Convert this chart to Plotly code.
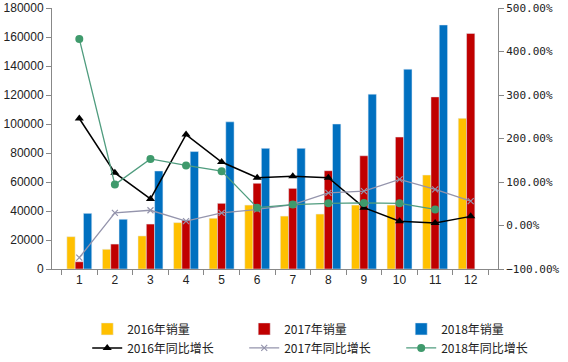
import plotly.graph_objects as go

months = ["1", "2", "3", "4", "5", "6", "7", "8", "9", "10", "11", "12"]
sales_2016 = [22300, 13600, 22800, 32000, 35000, 44100, 36500, 37900, 44100, 44100, 64800, 103900]
sales_2017 = [5000, 17200, 31000, 33800, 45300, 59100, 55600, 67800, 78100, 91000, 118700, 162500]
sales_2018 = [38400, 34300, 67600, 81000, 101500, 83200, 83200, 100000, 120600, 137800, 168300]
growth_2016 = [246, 121, 61, 209, 146, 110, 113, 110, 41, 10, 6, 21]
growth_2017 = [-74, 29, 35, 10, 29, 37, 48, 75, 79, 106, 83, 56]
growth_2018 = [429, 94, 153, 138, 125, 41, 48, 51, 52, 51, 37]

names = ["2016年销量", "2017年销量", "2018年销量", "2016年同比增长", "2017年同比增长", "2018年同比增长"]

font_cjk = "Noto Sans CJK SC, Noto Sans, sans-serif"

fig = go.Figure()
fig.add_trace(go.Bar(x=months, y=sales_2016, name=names[0], marker_color="#FFC000"))
fig.add_trace(go.Bar(x=months, y=sales_2017, name=names[1], marker_color="#C00000"))
fig.add_trace(go.Bar(x=months[:len(sales_2018)], y=sales_2018, name=names[2], marker_color="#0070C0"))
fig.add_trace(go.Scatter(x=months, y=growth_2016, name=names[3], yaxis="y2", mode="lines+markers",
                         line=dict(color="#000000", width=1.5),
                         marker=dict(symbol="triangle-up", size=8, color="#000000")))
fig.add_trace(go.Scatter(x=months, y=growth_2017, name=names[4], yaxis="y2", mode="lines+markers",
                         line=dict(color="#9494AC", width=1.3),
                         marker=dict(symbol="x-thin", size=6, color="#9494AC",
                                     line=dict(color="#9494AC", width=1.2))))
fig.add_trace(go.Scatter(x=months[:len(growth_2018)], y=growth_2018, name=names[5], yaxis="y2",
                         mode="lines+markers",
                         line=dict(color="#4F9C7E", width=1.3),
                         marker=dict(symbol="circle", size=8, color="#3F9A6C")))

fig.update_layout(
    width=568, height=362,
    margin=dict(l=52, r=70, t=8, b=93, autoexpand=False),
    paper_bgcolor="white", plot_bgcolor="white",
    barmode="group", bargap=0.3, bargroupgap=0,
    font=dict(family=font_cjk, size=12, color="#222222"),
    showlegend=True,
    legend=dict(orientation="h", x=1.135, xanchor="right", y=-0.174, yanchor="top",
                entrywidth=112, entrywidthmode="pixels",
                font=dict(size=12, family=font_cjk, color="#222222"),
                bgcolor="rgba(0,0,0,0)", tracegroupgap=0, itemwidth=30),
    xaxis=dict(type="category", showline=True, linecolor="#888888", linewidth=1,
               ticks="outside", ticklen=5, tickcolor="#888888", tickson="boundaries",
               showgrid=False, tickfont=dict(size=12, family="Liberation Sans, Arial")),
    yaxis=dict(range=[0, 180000], dtick=20000, showline=True, linecolor="#888888", linewidth=1,
               ticks="outside", ticklen=5, tickcolor="#888888", showgrid=False, zeroline=False,
               tickformat="d", tickfont=dict(size=12, family="Liberation Sans, Arial")),
    yaxis2=dict(range=[-100, 500], dtick=100, overlaying="y", side="right", showline=True,
                linecolor="#888888", linewidth=1, ticks="outside", ticklen=5, tickcolor="#888888",
                showgrid=False, zeroline=False, tickformat=".2f", ticksuffix="%",
                tickfont=dict(size=11, family="DejaVu Sans Mono, monospace")),
)

fig.write_html("out.html", config={"displayModeBar": False},
               post_script="document.body.style.margin='0';")
